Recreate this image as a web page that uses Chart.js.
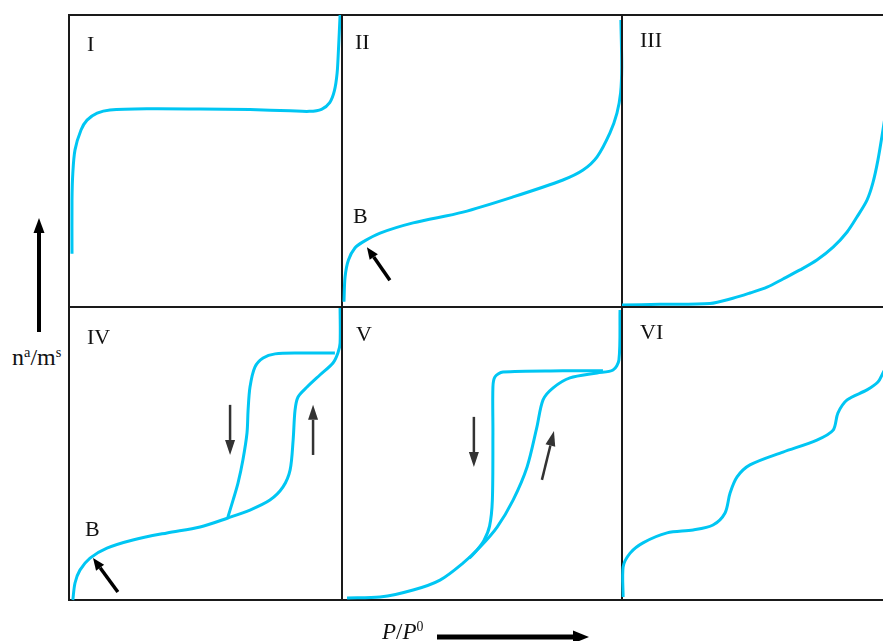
<!DOCTYPE html>
<html>
<head>
<meta charset="utf-8">
<title>Adsorption isotherm types</title>
<script src="https://cdn.jsdelivr.net/npm/chart.js@4.4.0/dist/chart.umd.min.js"></script>
<style>
  html, body { margin: 0; padding: 0; background: #fff; }
  body { width: 883px; height: 641px; overflow: hidden; position: relative; font-family: "Liberation Serif", "DejaVu Serif", serif; color: #111; }
  #stage { position: absolute; left: 0; top: 0; width: 883px; height: 641px; }
  .lbl { position: absolute; font-size: 22px; line-height: 22px; white-space: nowrap; z-index: 2; }
  .axis { font-size: 24px; line-height: 24px; }
  .lbl sup { font-size: 60%; vertical-align: 0; position: relative; top: -0.55em; }
  #axes { position: absolute; left: 0; top: 0; z-index: 2; }
</style>
</head>
<body>
<div id="stage"></div>

<div class="lbl" style="left:87px;top:33px">I</div>
<div class="lbl" style="left:355px;top:31px">II</div>
<div class="lbl" style="left:640px;top:29px">III</div>
<div class="lbl" style="left:87px;top:326px">IV</div>
<div class="lbl" style="left:356px;top:323px">V</div>
<div class="lbl" style="left:640px;top:321px">VI</div>
<div class="lbl" style="left:353px;top:205px">B</div>
<div class="lbl" style="left:85px;top:518px">B</div>
<div class="lbl axis" style="left:12px;top:345px">n<sup>a</sup>/m<sup>s</sup></div>
<div class="lbl" style="left:382px;top:621px;font-size:23px"><i>P</i>/<i>P</i><sup>0</sup></div>

<svg id="axes" width="883" height="641">
  <line x1="39" y1="332" x2="39" y2="228" stroke="#000" stroke-width="4"/>
  <polygon points="39,218 33.5,233 44.5,233" fill="#000"/>
  <line x1="437" y1="637" x2="576" y2="637" stroke="#000" stroke-width="5"/>
  <polygon points="589,637 573,630.5 573,643.5" fill="#000"/>
</svg>

<script>
// amount adsorbed vs relative pressure, each panel scaled 0..1 on both axes
const typeIx = [0.011, 0.011, 0.014, 0.022, 0.044, 0.066, 0.103, 0.150, 0.297, 0.480, 0.663, 0.810, 0.880, 0.925, 0.955, 0.972, 0.982, 0.987, 0.993];
const typeIy = [0.182, 0.366, 0.459, 0.538, 0.606, 0.640, 0.664, 0.675, 0.679, 0.678, 0.676, 0.672, 0.670, 0.677, 0.700, 0.740, 0.800, 0.880, 1.000];

const typeIIx = [0.007, 0.011, 0.023, 0.046, 0.075, 0.136, 0.254, 0.432, 0.611, 0.789, 0.861, 0.911, 0.957, 0.982, 0.995, 0.999, 0.996];
const typeIIy = [0.018, 0.103, 0.161, 0.202, 0.223, 0.253, 0.288, 0.325, 0.377, 0.435, 0.469, 0.514, 0.596, 0.664, 0.733, 0.822, 0.983];

const typeIIIx = [0.000, 0.136, 0.314, 0.396, 0.457, 0.518, 0.575, 0.636, 0.696, 0.754, 0.804, 0.839, 0.875, 0.896, 0.914, 0.932, 0.946];
const typeIIIy = [0.007, 0.009, 0.012, 0.030, 0.048, 0.068, 0.096, 0.127, 0.161, 0.205, 0.257, 0.308, 0.366, 0.425, 0.503, 0.606, 0.692];

const typeIVadsX = [0.014, 0.022, 0.040, 0.077, 0.139, 0.234, 0.359, 0.480, 0.582, 0.663, 0.736, 0.784, 0.810, 0.821, 0.828, 0.839, 0.872, 0.919, 0.967, 0.985, 0.993, 0.993];
const typeIVadsY = [0.000, 0.058, 0.102, 0.143, 0.177, 0.205, 0.229, 0.249, 0.280, 0.307, 0.341, 0.386, 0.444, 0.546, 0.648, 0.693, 0.727, 0.768, 0.809, 0.843, 0.877, 0.997];
const typeIVdesX = [0.974, 0.846, 0.755, 0.711, 0.681, 0.663, 0.656, 0.652, 0.637, 0.619, 0.601, 0.582];
const typeIVdesY = [0.843, 0.843, 0.840, 0.826, 0.795, 0.727, 0.648, 0.570, 0.478, 0.399, 0.341, 0.283];

const typeVadsX = [0.018, 0.136, 0.254, 0.350, 0.432, 0.493, 0.554, 0.611, 0.661, 0.696, 0.718, 0.754, 0.814, 0.911, 0.968, 0.989, 0.993];
const typeVadsY = [0.007, 0.010, 0.034, 0.068, 0.126, 0.181, 0.249, 0.341, 0.454, 0.590, 0.683, 0.724, 0.758, 0.775, 0.785, 0.819, 0.990];
const typeVdesX = [0.932, 0.789, 0.575, 0.546, 0.539, 0.539, 0.537, 0.527, 0.507, 0.480, 0.455];
const typeVdesY = [0.782, 0.782, 0.778, 0.761, 0.727, 0.570, 0.341, 0.252, 0.203, 0.168, 0.143];

const typeVIx = [0.004, 0.004, 0.029, 0.075, 0.161, 0.254, 0.325, 0.368, 0.386, 0.411, 0.457, 0.575, 0.696, 0.754, 0.771, 0.804, 0.875, 0.914, 0.932, 0.957];
const typeVIy = [0.010, 0.113, 0.160, 0.195, 0.229, 0.239, 0.256, 0.297, 0.365, 0.420, 0.461, 0.505, 0.546, 0.580, 0.638, 0.683, 0.717, 0.744, 0.775, 0.819];

const CURVE = '#00c6f3';
const PAD = 6;
const colLeft = [69, 342, 622];
const colWidth = [273, 280, 280];
const rowTop = [15, 307];
const rowHeight = [292, 293];

// arrows: [tailX, tailY, tipX, tipY] in panel units
const panels = [
  { col: 0, row: 0, series: [[typeIx, typeIy]], arrows: [] },
  { col: 1, row: 0, series: [[typeIIx, typeIIy]], arrows: [{ at: [0.171, 0.092, 0.089, 0.205], kind: 'point' }] },
  { col: 2, row: 0, series: [[typeIIIx, typeIIIy]], arrows: [] },
  {
    col: 0, row: 1,
    series: [[typeIVadsX, typeIVadsY], [typeIVdesX, typeIVdesY]],
    arrows: [
      { at: [0.179, 0.027, 0.088, 0.143], kind: 'point' },
      { at: [0.590, 0.666, 0.590, 0.495], kind: 'flow' },
      { at: [0.894, 0.495, 0.894, 0.666], kind: 'flow' },
    ],
  },
  {
    col: 1, row: 1,
    series: [[typeVadsX, typeVadsY], [typeVdesX, typeVdesY]],
    arrows: [
      { at: [0.471, 0.625, 0.471, 0.454], kind: 'flow' },
      { at: [0.714, 0.410, 0.757, 0.577], kind: 'flow' },
    ],
  },
  { col: 2, row: 1, series: [[typeVIx, typeVIy]], arrows: [] },
];

function drawArrow(ctx, x1, y1, x2, y2, color, lw, headLen, headW) {
  const ang = Math.atan2(y2 - y1, x2 - x1);
  const bx = x2 - headLen * Math.cos(ang);
  const by = y2 - headLen * Math.sin(ang);
  ctx.strokeStyle = color;
  ctx.fillStyle = color;
  ctx.lineWidth = lw;
  ctx.beginPath();
  ctx.moveTo(x1, y1);
  ctx.lineTo(bx, by);
  ctx.stroke();
  ctx.beginPath();
  ctx.moveTo(x2, y2);
  ctx.lineTo(bx + (headW / 2) * Math.sin(ang), by - (headW / 2) * Math.cos(ang));
  ctx.lineTo(bx - (headW / 2) * Math.sin(ang), by + (headW / 2) * Math.cos(ang));
  ctx.closePath();
  ctx.fill();
}

const panelDecor = {
  id: 'panelDecor',
  beforeDatasetsDraw(chart) {
    const { ctx, chartArea: a } = chart;
    ctx.save();
    ctx.strokeStyle = '#1a1a1a';
    ctx.lineWidth = 2;
    ctx.strokeRect(a.left, a.top, a.right - a.left, a.bottom - a.top);
    ctx.restore();
  },
  afterDatasetsDraw(chart, args, opts) {
    const { ctx, scales: { x, y } } = chart;
    ctx.save();
    (opts.arrows || []).forEach((ar) => {
      const [tx, ty, hx, hy] = ar.at;
      const p = [x.getPixelForValue(tx), y.getPixelForValue(ty), x.getPixelForValue(hx), y.getPixelForValue(hy)];
      if (ar.kind === 'point') drawArrow(ctx, ...p, '#000', 3.5, 12, 10);
      else drawArrow(ctx, ...p, '#333', 2.5, 15, 10);
    });
    ctx.restore();
  },
};

function makePanel(p) {
  const w = colWidth[p.col];
  const h = rowHeight[p.row];
  const canvas = document.createElement('canvas');
  canvas.width = w + 2 * PAD;
  canvas.height = h + 2 * PAD;
  canvas.style.cssText = `position:absolute;left:${colLeft[p.col] - PAD}px;top:${rowTop[p.row] - PAD}px;width:${w + 2 * PAD}px;height:${h + 2 * PAD}px`;
  document.getElementById('stage').appendChild(canvas);

  return new Chart(canvas.getContext('2d'), {
    type: 'scatter',
    data: {
      datasets: p.series.map(([xs, ys]) => ({
        data: xs.map((x, i) => ({ x, y: ys[i] })),
        showLine: true,
        borderColor: CURVE,
        borderWidth: 3,
        pointRadius: 0,
        tension: 0.3,
        clip: PAD,
      })),
    },
    options: {
      responsive: false,
      animation: false,
      devicePixelRatio: 1,
      events: [],
      layout: { padding: PAD },
      scales: {
        x: { type: 'linear', min: 0, max: 1, display: false },
        y: { type: 'linear', min: 0, max: 1, display: false },
      },
      plugins: {
        legend: { display: false },
        tooltip: { enabled: false },
        panelDecor: { arrows: p.arrows },
      },
    },
    plugins: [panelDecor],
  });
}

document.addEventListener('DOMContentLoaded', function () {
  panels.forEach(makePanel);
});
</script>
</body>
</html>
